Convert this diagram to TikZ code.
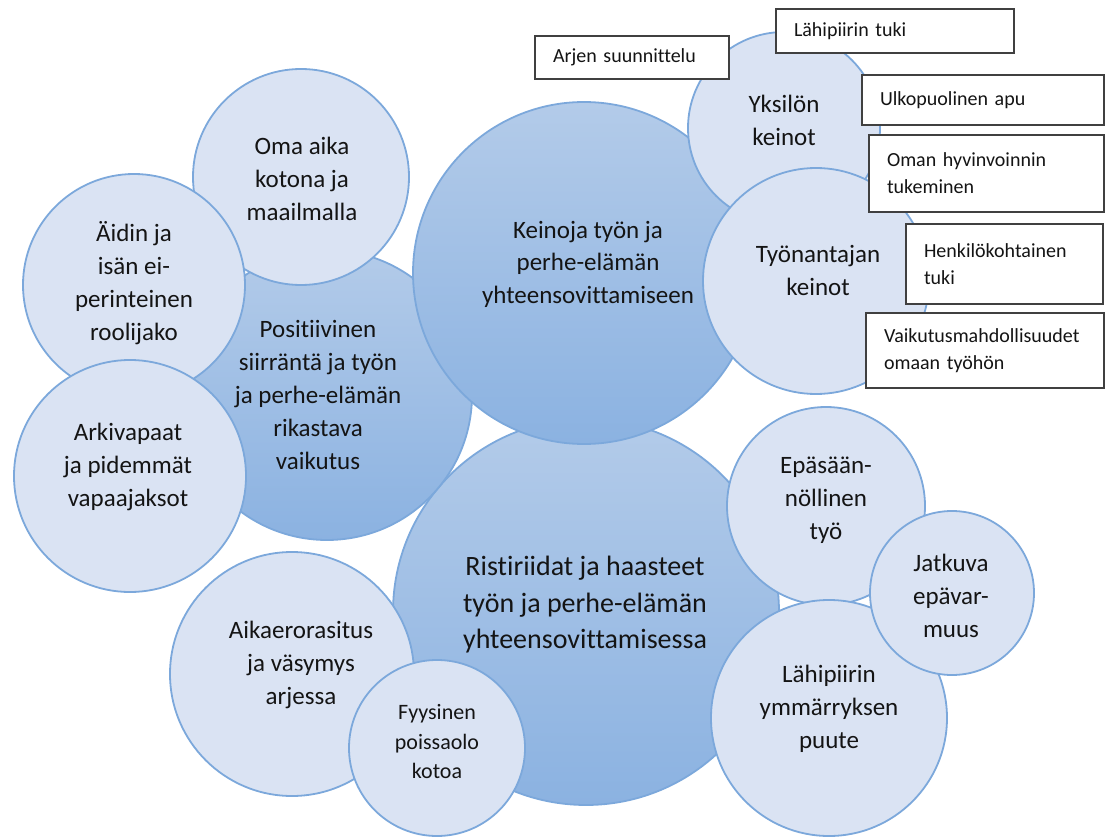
\documentclass[tikz,border=0pt]{standalone}
\usepackage{fontspec}
\setmainfont{Carlito}[Ligatures=NoCommon]
\usetikzlibrary{shapes,positioning}
\definecolor{vaalea}{HTML}{DAE3F3}
\definecolor{reuna}{HTML}{7CA8DB}
\definecolor{ylä}{HTML}{B3CBE9}
\definecolor{ala}{HTML}{8BB2E1}
\definecolor{teksti}{HTML}{141414}

\begin{document}
\begin{tikzpicture}[x=1pt,y=-1pt,line width=1.8pt]
\tikzstyle{every node}=[font=\fontsize{25}{33}\selectfont,align=center,text=teksti]
\tikzstyle{pieni}=[circle,draw=reuna,fill=vaalea,inner sep=0pt]
\tikzstyle{iso}=[circle,draw=reuna,top color=ylä,bottom color=ala,inner sep=0pt]
\tikzstyle{laatikko}=[draw=black!75,line width=1.5pt,fill=white,align=left,inner xsep=18pt,inner ysep=0pt,font=\fontsize{20}{27}\selectfont]
\useasboundingbox (0,0) rectangle (1106,837);
% isot ympyrät
\path node[iso,minimum size=386pt] (r) at (586,612) {};
\path node[font=\fontsize{28}{36.5}\selectfont] (rt) at (585,605) {Ristiriidat ja haasteet\\työn ja perhe-elämän\\yhteensovittamisessa};
\path node[iso,minimum size=290pt] (p) at (327,395) {};
\path node (pt) at (318,395) {Positiivinen\\siirräntä ja työn\\ja perhe-elämän\\rikastava\\vaikutus};
\path node[iso,minimum size=342pt] (k) at (584,273) {};
\path node[font=\fontsize{25}{32.5}\selectfont] (kt) at (588,264) {Keinoja työn ja\\perhe-elämän\\yhteensovittamiseen};
% vasen puoli
\path node[pieni,minimum size=216pt] (oa) at (301,177) {};
\path node (oat) at (302,179) {Oma aika\\kotona ja\\maailmalla};
\path node[pieni,minimum size=222pt] (ai) at (134,285) {};
\path node (ait) at (134,283) {Äidin ja\\isän ei-\\perinteinen\\roolijako};
\path node[pieni,minimum size=232pt] (av) at (130,476) {};
\path node (avt) at (128,467) {Arkivapaat\\ja pidemmät\\vapaajaksot};
\path node[pieni,minimum size=244pt] (ae) at (292,674) {};
\path node (aet) at (301,665) {Aikaerorasitus\\ja väsymys\\arjessa};
\path node[pieni,minimum size=176pt] (fy) at (437,748) {};
\path node[font=\fontsize{22}{29.5}\selectfont] (fyt) at (437,742) {Fyysinen\\poissaolo\\kotoa};
% oikea puoli
\path node[pieni,minimum size=192pt] (yk) at (784,128) {};
\path node (ykt) at (784,120) {Yksilön\\keinot};
\path node[pieni,minimum size=226pt] (ty) at (816,281) {};
\path node (tyt) at (818,270) {Työnantajan\\keinot};
\path node[pieni,minimum size=198pt] (ep) at (826,506) {};
\path node (ept) at (826,500) {Epäsään-\\nöllinen\\työ};
\path node[pieni,minimum size=236pt] (lp) at (829,718) {};
\path node (lpt) at (829,709) {Lähipiirin\\ymmärryksen\\puute};
\path node[pieni,minimum size=164pt] (ja) at (952,593) {};
\path node (jat) at (951,596) {Jatkuva\\epävar-\\muus};
% laatikot
\path node[laatikko,minimum width=194pt,minimum height=43pt,text width=158pt] (b1) at (632,57.5) {Arjen suunnittelu};
\path node[laatikko,minimum width=238pt,minimum height=44pt,text width=202pt] (b2) at (895,31) {Lähipiirin tuki};
\path node[laatikko,minimum width=242pt,minimum height=50pt,text width=206pt] (b3) at (983,100) {Ulkopuolinen apu};
\path node[laatikko,minimum width=235pt,minimum height=77pt,text width=199pt] (b4) at (986.5,173.5) {Oman hyvinvoinnin\\tukeminen};
\path node[laatikko,minimum width=197pt,minimum height=80pt,text width=161pt] (b5) at (1004.5,264) {Henkilökohtainen\\tuki};
\path node[laatikko,minimum width=238pt,minimum height=75pt,text width=202pt] (b6) at (985,350.5) {Vaikutusmahdollisuudet\\omaan työhön};
\end{tikzpicture}
\end{document}
